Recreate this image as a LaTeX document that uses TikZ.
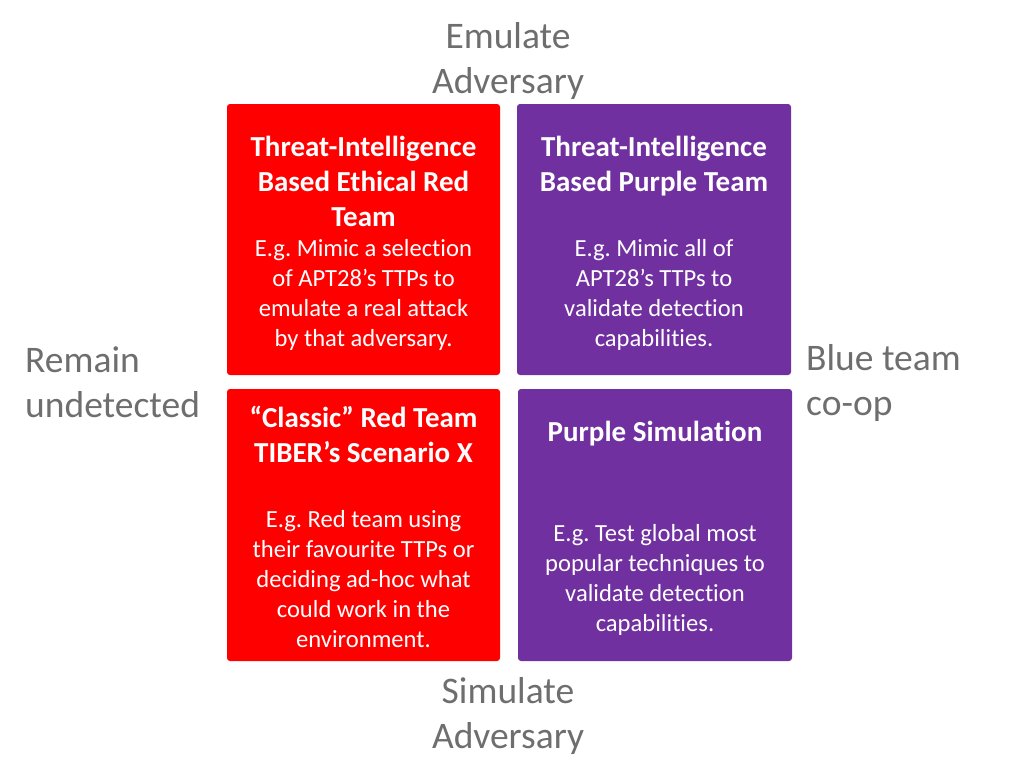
\documentclass[tikz,border=0pt]{standalone}
\usepackage{fontspec}
\setmainfont{Carlito}[Ligatures=NoCommon]
\usepackage{xcolor}
\definecolor{boxred}{HTML}{FF0000}
\definecolor{boxpurple}{HTML}{7030A0}
\definecolor{labelgray}{HTML}{6E6E6E}
\usetikzlibrary{calc}
\frenchspacing

\begin{document}
\begin{tikzpicture}[x=1pt, y=-1pt,
    quad/.style={rounded corners=3pt, draw=none},
    headtext/.style={text=white, align=center, font=\fontsize{29}{35}\selectfont\bfseries},
    bodytext/.style={text=white, align=center, font=\fontsize{24.6}{30}\selectfont},
    sidetext/.style={text=labelgray, align=left, font=\fontsize{37.5}{45}\selectfont}]
                \useasboundingbox (0,0) rectangle (1015,780);

                % quadrants
                \fill[quad, boxred] (227,104) rectangle (500,375);
                \fill[quad, boxpurple] (517,104) rectangle (791,375);
                \fill[quad, boxred] (227,389) rectangle (500,661);
                \fill[quad, boxpurple] (518,389) rectangle (792,661);

                % top left
                \node[headtext] (tlhead) at (363.5,181) {Threat-Intelligence\\Based Ethical Red\\Team};
                \node[bodytext] (tlbody) at (363.5,295) {E.g. Mimic a selection\\of APT28’s TTPs to\\emulate a real attack\\by that adversary.};

                % top right
                \node[headtext] (trhead) at (654,166.5) {Threat-Intelligence\\Based Purple Team};
                \node[bodytext] (trbody) at (654,295) {E.g. Mimic all of\\APT28’s TTPs to\\validate detection\\capabilities.};

                % bottom left
                \node[headtext] (blhead) at (363.5,434) {“Classic” Red Team\\TIBER’s Scenario X};
                \node[bodytext] (blbody) at (363.5,579) {E.g. Red team using\\their favourite TTPs or\\deciding ad-hoc what\\could work in the\\environment.};

                % bottom right
                \node[headtext] (brhead) at (655,434) {Purple Simulation};
                \node[bodytext] (brbody) at (655,579.5) {E.g. Test global most\\popular techniques to\\validate detection\\capabilities.};

                % axis labels
                \node[sidetext, align=center] (emulate) at (508,60.5) {Emulate\\Adversary};
                \node[sidetext, align=center] (simulate) at (508,715.5) {Simulate\\Adversary};
                \node[sidetext, anchor=west, inner sep=0pt] (remain) at (25,382.5) {Remain\\undetected};
                \node[sidetext, anchor=west, inner sep=0pt] (blueteam) at (806,382.5) {Blue team\\co-op};
            \end{tikzpicture}
\end{document}
